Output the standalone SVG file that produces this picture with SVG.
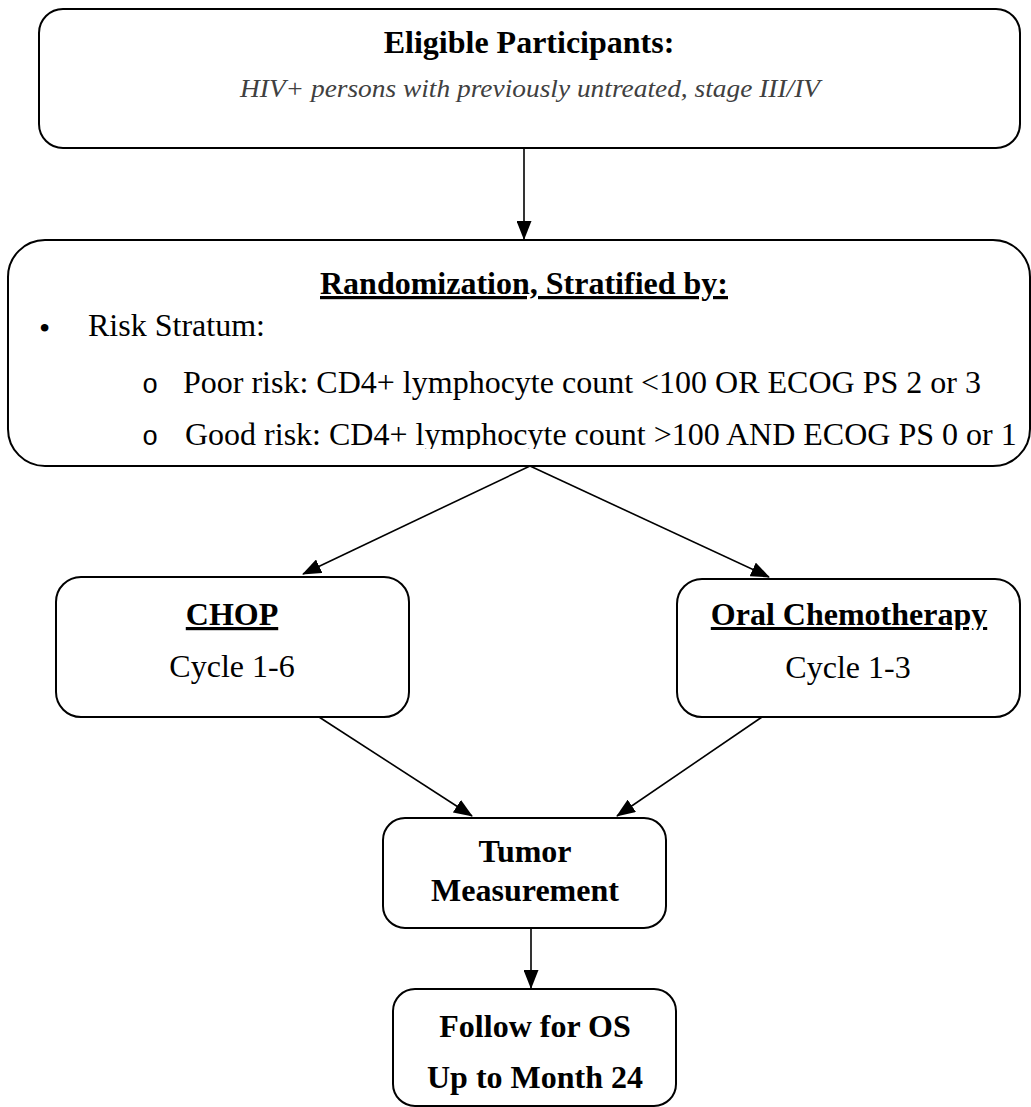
<svg xmlns="http://www.w3.org/2000/svg" width="1031" height="1107" viewBox="0 0 1031 1107">
<style>
.box{fill:#fff;stroke:#000;stroke-width:2}
.t{font-family:"Liberation Serif","Times New Roman",serif;fill:#000;font-size:32px}
.b{font-weight:bold}
.u{text-decoration:underline}
.c{text-anchor:middle}
.o{font-family:"Liberation Mono","Courier New",monospace;font-size:27px}
.sub{font-family:"Liberation Serif",serif;font-style:italic;fill:#404040;font-size:25px}
.e{stroke:#000;stroke-width:1.6;fill:none;marker-end:url(#ah)}
</style>
<defs>
<marker id="ah" markerUnits="userSpaceOnUse" markerWidth="19" markerHeight="15" refX="18" refY="7.5" orient="auto">
<path d="M0,0 L19,7.5 L0,15 Z" fill="#000"/>
</marker>
<clipPath id="clip2"><rect x="0" y="240" width="1031" height="209"/></clipPath>
<clipPath id="clipOral"><rect x="677" y="579" width="343" height="51"/></clipPath>
</defs>
<rect width="1031" height="1107" fill="#fff"/>
<g id="connectors">
<line class="e" x1="524" y1="148" x2="524" y2="239"/>
<line class="e" x1="530" y1="466" x2="303" y2="574"/>
<line class="e" x1="530" y1="466" x2="769" y2="577"/>
<line class="e" x1="319" y1="717" x2="472" y2="816"/>
<line class="e" x1="762" y1="717" x2="617" y2="816"/>
<line class="e" x1="531" y1="928" x2="531" y2="988"/>
</g>
<g id="eligible">
<rect class="box" x="39" y="9" width="981" height="139" rx="24"/>
<text class="t b c" x="529" y="53">Eligible Participants:</text>
<text class="sub c" x="530" y="97" textLength="580" lengthAdjust="spacingAndGlyphs">HIV+ persons with previously untreated, stage III/IV</text>
</g>
<g id="randomization">
<rect class="box" x="8" y="240" width="1022" height="226" rx="37"/>
<text class="t b c u" x="524" y="294">Randomization, Stratified by:</text>
<text class="t" x="39" y="339" font-size="46">•</text>
<text class="t" x="88" y="336">Risk Stratum:</text>
<text class="o" x="142" y="393">o</text>
<text class="t" x="183" y="393">Poor risk: CD4+ lymphocyte count &lt;100 OR ECOG PS 2 or 3</text>
<g clip-path="url(#clip2)">
<text class="o" x="142" y="445">o</text>
<text class="t" x="185" y="445" font-size="31.6">Good risk: CD4+ lymphocyte count &gt;100 AND ECOG PS 0 or 1</text>
</g>
</g>
<g id="chop">
<rect class="box" x="56" y="577" width="353" height="140" rx="25"/>
<text class="t b c u" x="232" y="625" font-size="31">CHOP</text>
<text class="t c" x="232" y="677" font-size="31">Cycle 1-6</text>
</g>
<g id="oral">
<rect class="box" x="677" y="579" width="343" height="138" rx="25"/>
<g clip-path="url(#clipOral)">
<text class="t b c u" x="849" y="625" font-size="31">Oral Chemotherapy</text>
</g>
<text class="t c" x="848" y="678" font-size="31">Cycle 1-3</text>
</g>
<g id="tumor">
<rect class="box" x="383" y="818" width="283" height="110" rx="22"/>
<text class="t b c" x="525" y="862">Tumor</text>
<text class="t b c" x="525" y="901">Measurement</text>
</g>
<g id="follow">
<rect class="box" x="393" y="989" width="283" height="117" rx="22"/>
<text class="t b c" x="535" y="1037">Follow for OS</text>
<text class="t b c" x="535" y="1088">Up to Month 24</text>
</g>
</svg>
